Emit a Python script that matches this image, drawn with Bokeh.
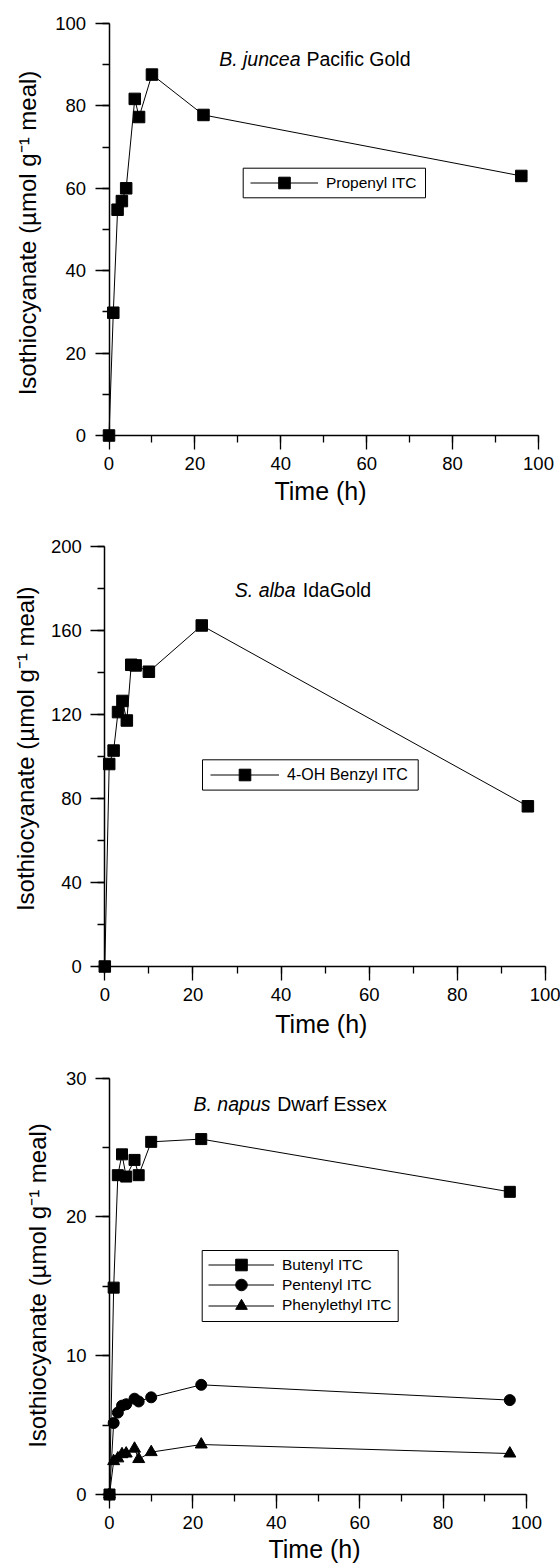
import math
from bokeh.plotting import figure
from bokeh.models import Range1d, SingleIntervalTicker, Label, Legend, LegendItem, BoxAnnotation
from bokeh.layouts import column
from bokeh.embed import file_html
from bokeh.resources import INLINE

FONT = "Liberation Sans"
MID = 0.3465  # (ascent - descent) / 2 for Liberation Sans, in em

# ---------------- data ----------------
time_juncea = [0, 1, 2, 3, 4, 6, 7, 10, 22, 96]
propenyl_itc = [0, 29.8, 54.8, 56.9, 60.0, 81.7, 77.3, 87.6, 77.8, 63.0]

time_alba = [0, 1, 2, 3, 4, 5, 6, 7, 10, 22, 96]
hydroxybenzyl_itc = [0, 96.3, 102.7, 121.0, 126.3, 117.0, 143.5, 143.2, 140.2, 162.2, 76.2]

time_napus = [0, 1, 2, 3, 4, 6, 7, 10, 22, 96]
butenyl_itc = [0, 14.9, 23.0, 24.5, 22.9, 24.1, 23.0, 25.4, 25.6, 21.8]
pentenyl_itc = [0, 5.15, 5.9, 6.4, 6.5, 6.9, 6.7, 7.0, 7.9, 6.8]
phenylethyl_itc = [0, 2.4, 2.6, 2.9, 2.95, 3.3, 2.55, 3.05, 3.6, 2.95]

x_label = "Time (h)"
y_label = "Isothiocyanate (\u00b5mol g\u207b\u00b9 meal)"

W = 560


class Panel:
    """A figure whose frame fills the whole canvas; axes drawn at data 0."""

    def __init__(self, height, axis_px, xmax, ymax, yint):
        x0, x1, y0, y1 = axis_px
        self.x0, self.y0, self.H = x0, y0, height
        self.sx = (x1 - x0) / xmax
        self.sy = (y0 - y1) / ymax
        p = figure(width=W, height=height,
                   x_range=Range1d(-x0 / self.sx, (W - x0) / self.sx),
                   y_range=Range1d((y0 - height) / self.sy, y0 / self.sy),
                   output_backend="svg", toolbar_location=None,
                   min_border=0, min_border_left=0, min_border_right=0,
                   min_border_top=0, min_border_bottom=0)
        p.title.visible = False
        p.grid.visible = False
        p.outline_line_color = None
        p.background_fill_color = "white"
        p.border_fill_color = "white"
        for ax, bnd, iv, std in ((p.xaxis[0], (0, xmax), 20, 7), (p.yaxis[0], (0, ymax), yint, 9)):
            ax.fixed_location = 0
            ax.bounds = bnd
            ax.ticker = SingleIntervalTicker(interval=iv, num_minor_ticks=2)
            ax.axis_line_color = "black"
            ax.axis_line_width = 1.5
            ax.major_tick_line_color = "black"
            ax.minor_tick_line_color = "black"
            ax.major_tick_line_width = 1.3
            ax.minor_tick_line_width = 1.3
            ax.major_tick_out = 14
            ax.major_tick_in = 0
            ax.minor_tick_out = 7
            ax.minor_tick_in = 0
            ax.major_label_text_font = FONT
            ax.major_label_text_font_size = "18.5px"
            ax.major_label_text_color = "black"
            ax.major_label_standoff = std
        self.p = p

    def d(self, px, py):
        return (px - self.x0) / self.sx, (self.y0 - py) / self.sy

    def text(self, px, base, txt, fs, align="left", style="normal", vertical=False):
        # base = pixel position of the text baseline; anchor at the middle of the text box
        if vertical:
            x, y = self.d(base - MID * fs, px)
            angle = math.pi / 2
        else:
            x, y = self.d(px, base - MID * fs)
            angle = 0.0
        self.p.add_layout(Label(x=x, y=y, text=txt, text_align=align, text_baseline="middle",
                                text_font=FONT, text_font_style=style, text_font_size=f"{fs}px",
                                text_color="black", angle=angle))

    def axis_labels(self, time_cx, time_base, ylab_base, ylab_cy):
        self.text(time_cx, time_base, x_label, 25, align="center")
        self.text(ylab_cy, ylab_base, y_label, 24, align="center", vertical=True)

    def heading(self, italic, normal, right_x, left_x, base_y):
        self.text(right_x, base_y, italic, 19.5, align="right", style="italic")
        self.text(left_x, base_y, normal, 19.5, align="left")

    def legend(self, items, box, glyph_left, glyph_w, row_cys, fsize):
        bl, br, bt, bb = box
        l, t = self.d(bl, bt)
        r, b = self.d(br, bb)
        self.p.add_layout(BoxAnnotation(left=l, right=r, top=t, bottom=b, fill_color="white",
                                        fill_alpha=1.0, line_color="black", line_width=1,
                                        line_alpha=1.0))
        for item, cy in zip(items, row_cys):
            lg = Legend(items=[item], location=(glyph_left, self.H - (cy + 14.5)),
                        border_line_color=None, background_fill_alpha=0.0, padding=0,
                        spacing=0, margin=0, glyph_width=glyph_w, glyph_height=29,
                        label_height=29, label_standoff=8, label_text_font=FONT,
                        label_text_font_size=fsize, label_text_color="black",
                        label_text_baseline="middle")
            self.p.add_layout(lg)


# ---------------- panel 1 ----------------
P1 = Panel(512, (108.5, 538, 435, 23), 100, 100, 20)
p1 = P1.p
l1 = p1.line(time_juncea, propenyl_itc, line_color="black", line_width=1)
s1 = p1.scatter(time_juncea, propenyl_itc, marker="square", size=11.5,
                fill_color="black", line_color="black")
P1.legend([LegendItem(label="Propenyl ITC", renderers=[l1, s1])],
          (242.7, 425, 167.7, 197.3), 250, 68, [182.5], "15.5px")
P1.heading("B. juncea", "Pacific Gold", 300, 306, 65.3)
P1.axis_labels(320, 499.3, 35.4, 232.5)

# ---------------- panel 2 ----------------
P2 = Panel(528, (104.3, 545, 454, 33.5), 100, 200, 40)
p2 = P2.p
l2 = p2.line(time_alba, hydroxybenzyl_itc, line_color="black", line_width=1)
s2 = p2.scatter(time_alba, hydroxybenzyl_itc, marker="square", size=11.5,
                fill_color="black", line_color="black")
P2.legend([LegendItem(label="4-OH Benzyl ITC", renderers=[l2, s2])],
          (202, 417.7, 247.3, 277.6), 210, 69, [262.5], "16px")
P2.heading("S. alba", "IdaGold", 295, 302.3, 84.7)
P2.axis_labels(320.8, 519.7, 33.7, 236.3)

# ---------------- panel 3 ----------------
P3 = Panel(526, (109, 526, 454, 37.5), 100, 30, 10)
p3 = P3.p
l3c = p3.line(time_napus, phenylethyl_itc, line_color="black", line_width=1)
s3c = p3.scatter(time_napus, phenylethyl_itc, marker="triangle", size=12,
                 fill_color="black", line_color="black")
l3b = p3.line(time_napus, pentenyl_itc, line_color="black", line_width=1)
s3b = p3.scatter(time_napus, pentenyl_itc, marker="circle", size=11,
                 fill_color="black", line_color="black")
l3a = p3.line(time_napus, butenyl_itc, line_color="black", line_width=1)
s3a = p3.scatter(time_napus, butenyl_itc, marker="square", size=11,
                 fill_color="black", line_color="black")
P3.legend([LegendItem(label="Butenyl ITC", renderers=[l3a, s3a]),
           LegendItem(label="Pentenyl ITC", renderers=[l3b, s3b]),
           LegendItem(label="Phenylethyl ITC", renderers=[l3c, s3c])],
          (201.7, 397.7, 210, 281), 208, 66, [224.5, 244.8, 265.1], "15.5px")
P3.heading("B. napus", "Dwarf Essex", 270, 276.7, 70)
P3.axis_labels(314, 516.7, 45.4, 245)

layout = column(p1, p2, p3, spacing=0)
open("out.html", "w").write(file_html(layout, INLINE))
